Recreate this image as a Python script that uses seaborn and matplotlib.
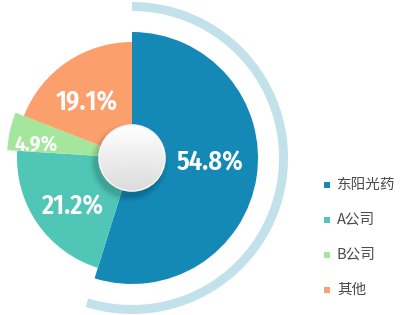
import numpy as np
import matplotlib
matplotlib.use("Agg")
import matplotlib.pyplot as plt
from matplotlib.patches import Wedge, Circle
import seaborn as sns

categories = ["东阳光药", "A公司", "B公司", "其他"]
shares = [54.8, 21.2, 4.9, 19.1]
pct_labels = ["54.8%", "21.2%", "4.9%", "19.1%"]

colors = ["#1589b6", "#4fc6b6", "#a5e69d", "#fba06d"]
arc_color = "#c3e1eb"
radii = [126, 115, 125, 116]
label_dist = [78, 77, 97, 72]
label_size = [19, 19, 15.5, 19]

sns.set_theme(style="white")
plt.rcParams["font.family"] = ["Noto Sans CJK SC", "DejaVu Sans"]
pal = sns.color_palette(colors)

W, H = 400, 315
fig = plt.figure(figsize=(W / 100, H / 100), dpi=100)
ax = fig.add_axes([0, 0, 1, 1])
cx, cy = 132, 157

wedges, _ = ax.pie(shares, colors=pal, startangle=90, counterclock=False,
                   center=(cx, cy), radius=126, frame=True,
                   wedgeprops=dict(linewidth=0))
for w, r in zip(wedges, radii):
    w.set_radius(r)

# outer arc around the leading slice
total = sum(shares)
ax.add_patch(Wedge((cx, cy), 156, 90 - 360 * shares[0] / total, 90,
                   width=9, facecolor=arc_color, edgecolor="none", zorder=1))

# percentage labels
for w, lab, d, fs in zip(wedges, pct_labels, label_dist, label_size):
    mid = np.deg2rad((w.theta1 + w.theta2) / 2 + 5)
    ax.text(cx + d * np.cos(mid), cy + d * np.sin(mid), lab,
            ha="center", va="center", color="white", fontsize=fs,
            fontweight="semibold",
            family=["Fira Sans Condensed", "DejaVu Sans"], zorder=5)

# centre disc with soft shadow
for k, a in zip(range(7, 0, -1), [0.01, 0.015, 0.02, 0.025, 0.03, 0.035, 0.04]):
    ax.add_patch(Circle((cx - 3, cy - 5), 33 + k, facecolor="black",
                        edgecolor="none", alpha=a, zorder=3))
disc = Circle((cx, cy), 33, facecolor="white", edgecolor="#f4f4f4",
              linewidth=1.2, zorder=4)
ax.add_patch(disc)
grad = np.linspace(0.86, 1.0, 100).reshape(-1, 1)
im = ax.imshow(np.repeat(grad, 2, axis=1)[::-1], cmap="gray", vmin=0, vmax=1,
               extent=(cx - 33, cx + 33, cy - 33, cy + 33), zorder=4.5,
               aspect="auto", interpolation="bilinear")
im.set_clip_path(Circle((cx, cy), 32.3, transform=ax.transData))

# legend
leg_y = [185, 220, 255, 290]
for c, lab, y in zip(pal, categories, leg_y):
    ax.scatter([327], [H - y], marker="s", s=22, color=c, linewidths=0, zorder=5)
    ax.text(337, H - y, lab, ha="left", va="center", fontsize=10.5,
            color="#4a4a4a", zorder=5)

ax.set_xlim(0, W)
ax.set_ylim(0, H)
ax.set_aspect("auto")
ax.set_axis_off()
fig.savefig("out.png", dpi=100, facecolor="white")
